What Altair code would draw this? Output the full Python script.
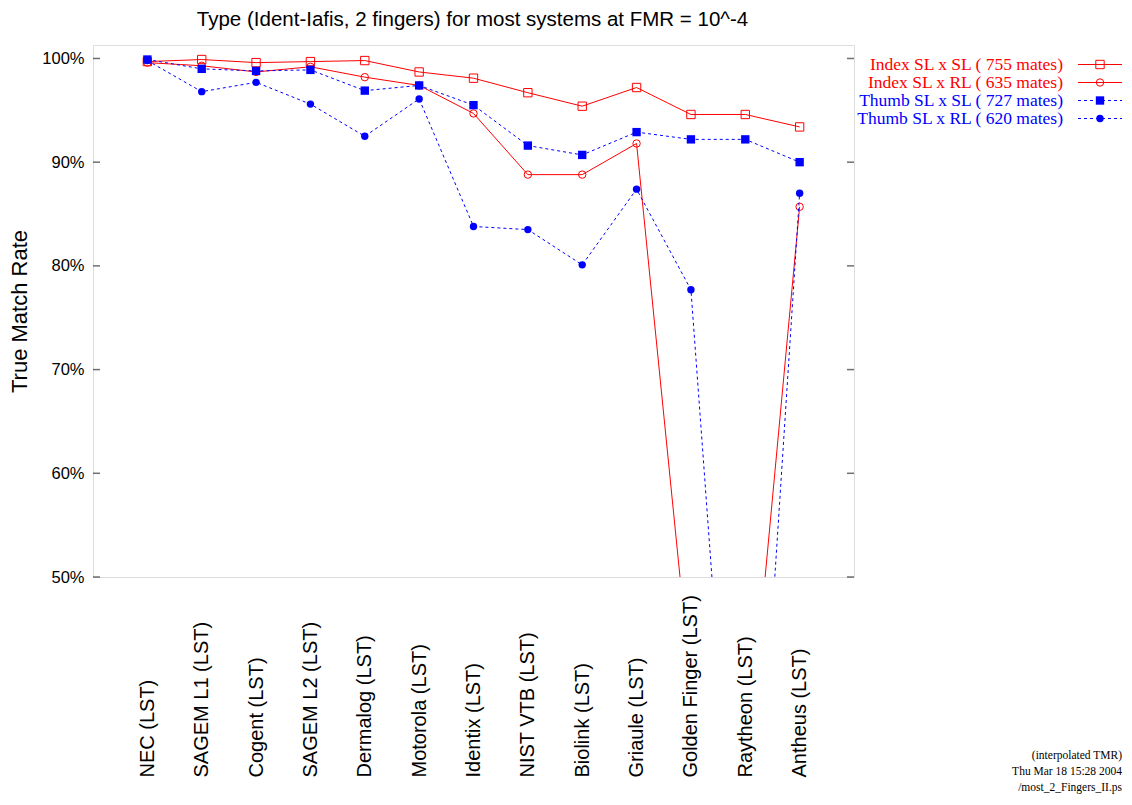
import altair as alt
import pandas as pd

# ---------------- data ----------------
systems = ["NEC (LST)", "SAGEM L1 (LST)", "Cogent (LST)", "SAGEM L2 (LST)",
           "Dermalog (LST)", "Motorola (LST)", "Identix (LST)", "NIST VTB (LST)",
           "Biolink (LST)", "Griaule (LST)", "Golden Finger (LST)",
           "Raytheon (LST)", "Antheus (LST)"]

index_sl_sl = [99.7, 99.9, 99.6, 99.7, 99.8, 98.7, 98.1, 96.7, 95.4, 97.2, 94.6, 94.6, 93.4]
index_sl_rl = [99.6, 99.3, 98.7, 99.2, 98.2, 97.4, 94.7, 88.8, 88.8, 91.8, 39.5, 29.5, 85.7]
thumb_sl_sl = [99.9, 99.0, 98.8, 98.9, 96.9, 97.4, 95.5, 91.6, 90.7, 92.9, 92.2, 92.2, 90.0]
thumb_sl_rl = [99.8, 96.8, 97.7, 95.6, 92.5, 96.1, 83.8, 83.5, 80.1, 87.4, 77.7, 6.0, 87.0]

series_names = ["Index SL x SL ( 755 mates)", "Index SL x RL ( 635 mates)",
                "Thumb SL x SL ( 727 mates)", "Thumb SL x RL ( 620 mates)"]
series_values = [index_sl_sl, index_sl_rl, thumb_sl_sl, thumb_sl_rl]
series_colors = ["#ff0000", "#ff0000", "#0000ff", "#0000ff"]
series_shapes = ["square", "circle", "square", "circle"]
series_filled = [False, False, True, True]
series_dashed = [False, False, True, True]

y_ticks = [50, 60, 70, 80, 90, 100]

title_text = "Type (Ident-Iafis, 2 fingers) for most systems at FMR = 10^-4"
footer_lines = ["(interpolated TMR)", "Thu Mar 18 15:28 2004", "/most_2_Fingers_II.ps"]

# ---------------- layout ----------------
W, H = 761, 532
PAD = {"left": 85, "top": 37, "right": 270, "bottom": 220}

x_scale = alt.Scale(type="point", domain=systems, padding=1)
y_scale = alt.Scale(domain=[50, 101.3], nice=False, zero=False)

x_enc = alt.X("system:N", scale=x_scale, sort=systems,
              axis=alt.Axis(title=None, labelAngle=270, labelAlign="left",
                            labelBaseline="middle", labelPadding=200,
                            labelFontSize=20, labelFont="Liberation Sans",
                            labelColor="#000000", labelLimit=400,
                            labelOverlap=False, labelBound=False, labelFlush=False,
                            ticks=False, domain=False, grid=False))
y_enc = alt.Y("rate:Q", scale=y_scale,
              axis=alt.Axis(title="True Match Rate", values=y_ticks,
                            labelExpr="datum.value + '%'",
                            labelFontSize=16.5, labelFont="Liberation Sans",
                            labelColor="#000000", labelPadding=9,
                            titleFontSize=22, titleFont="Liberation Sans",
                            titleFontWeight="normal", titleColor="#000000",
                            titleAngle=270, titleX=-74, titleY=H / 2,
                            titleAlign="center", titleBaseline="middle",
                            ticks=False, domain=False, grid=False))

layers = []
for name, vals, col, shp, fil, dash in zip(series_names, series_values, series_colors,
                                            series_shapes, series_filled, series_dashed):
    df = pd.DataFrame({"system": systems, "rate": vals, "series": name})
    line_kwargs = dict(color=col, strokeWidth=1, clip=True)
    if dash:
        line_kwargs["strokeDash"] = [3, 3]
    base = alt.Chart(df)
    layers.append(base.mark_line(**line_kwargs).encode(x=x_enc, y=y_enc))
    layers.append(base.mark_point(shape=shp, filled=fil, color=col,
                                  size=70 if shp == "square" else 55,
                                  strokeWidth=1, opacity=1, clip=True)
                  .encode(x=x_enc, y=y_enc))

# inward ticks on left and right borders
tick_df = pd.DataFrame({"rate": y_ticks})
for xpos in [3.5, W - 3.5]:
    layers.append(alt.Chart(tick_df).mark_tick(orient="horizontal", size=7,
                                               thickness=1.5, color="#333333")
                  .encode(x=alt.value(xpos), y=alt.Y("rate:Q", scale=y_scale)))

# title as text above plot
layers.append(alt.Chart(pd.DataFrame({"t": [title_text]}))
              .mark_text(align="center", baseline="alphabetic",
                         font="Liberation Sans", fontSize=20.5, color="#000000")
              .encode(x=alt.value(W / 2 - 1), y=alt.value(-19), text="t:N"))

# legend (top right, outside plot)
leg_y0, leg_dy = 19.5, 18
for i, (name, col, shp, fil, dash) in enumerate(zip(series_names, series_colors,
                                                      series_shapes, series_filled,
                                                      series_dashed)):
    yy = leg_y0 + i * leg_dy
    ldf = pd.DataFrame({"label": [name]})
    layers.append(alt.Chart(ldf).mark_text(align="right", baseline="middle",
                                           font="Liberation Serif", fontSize=17.5,
                                           color=col)
                  .encode(x=alt.value(970), y=alt.value(yy), text="label:N"))
    rk = dict(color=col, strokeWidth=1)
    if dash:
        rk["strokeDash"] = [3, 3]
    layers.append(alt.Chart(ldf).mark_rule(**rk)
                  .encode(x=alt.value(985), x2=alt.value(1029), y=alt.value(yy)))
    layers.append(alt.Chart(ldf).mark_point(shape=shp, filled=fil, color=col,
                                            size=70 if shp == "square" else 55,
                                            strokeWidth=1, opacity=1)
                  .encode(x=alt.value(1007), y=alt.value(yy)))

# footer
for j, txt in enumerate(footer_lines):
    fdf = pd.DataFrame({"t": [txt]})
    layers.append(alt.Chart(fdf).mark_text(align="right", baseline="middle",
                                           font="Liberation Serif", fontSize=11.5,
                                           color="#000000")
                  .encode(x=alt.value(1029), y=alt.value(711 + j * 16), text="t:N"))

chart = alt.layer(*layers).properties(
    width=W, height=H,
    autosize=alt.AutoSizeParams(type="none"),
    padding=PAD,
).configure_view(stroke="#333333", strokeWidth=1.5).configure(background="white")

chart.save("out.html", embed_options={"renderer": "svg", "actions": False})
